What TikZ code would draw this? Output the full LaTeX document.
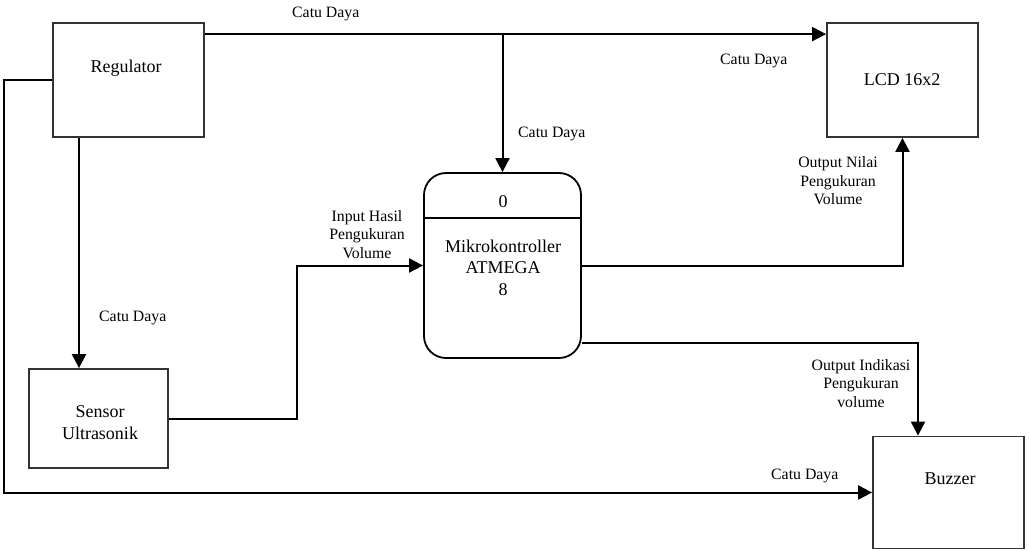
\documentclass[tikz,border=0pt]{standalone}
\usepackage{fontspec}
\setmainfont{Liberation Serif}
\usetikzlibrary{arrows.meta,calc}
\begin{document}
\begin{tikzpicture}[x=1pt,y=-1pt,
  box/.style={draw=black!80,line width=1.8pt,rectangle,inner sep=0pt},
  proc/.style={draw=black,line width=1.8pt,rounded corners=22pt,inner sep=0pt,minimum width=157pt,minimum height=185pt},
  boxtext/.style={font=\fontsize{18}{21.5}\selectfont,align=center,inner sep=0pt},
  lbl/.style={font=\fontsize{15.8}{18.5}\selectfont,align=center,inner sep=0pt},
  conn/.style={line width=2pt,draw=black},
  arr/.style={conn,-{Triangle[length=14pt,width=14pt]}}]
\useasboundingbox (0,0) rectangle (1029,550);
% boxes
\node[box,minimum width=151pt,minimum height=114pt] (reg) at (128.5,80) {};
\node[box,minimum width=151pt,minimum height=114pt] (lcd) at (902.5,80) {};
\node[box,minimum width=139pt,minimum height=99pt] (sen) at (98.5,418.5) {};
\node[box,minimum width=151pt,minimum height=112pt] (buz) at (948.5,492.5) {};
\node[proc] (mic) at (502.5,265.5) {};
\draw[conn] (mic.west |- 0,218) -- (mic.east |- 0,218);
% box texts
\node[boxtext] (regt) at (126,68) {Regulator};
\node[boxtext] (lcdt) at (902,80) {LCD 16x2};
\node[boxtext] (sent) at (100,422.5) {Sensor\\Ultrasonik};
\node[boxtext] (buzt) at (950,479) {Buzzer};
\node[boxtext] (mic0) at (503,202) {0};
\node[boxtext] (mict) at (503,267.5) {Mikrokontroller\\ATMEGA\\8};
% connectors
\coordinate (j) at (mic.north |- 0,35);
\draw[arr] ([yshift=-12pt]reg.north east) -- ([yshift=-12pt]lcd.north west);
\draw[arr] (j) -- (mic.north);
\coordinate (rs) at ([xshift=-49.5pt]reg.south);
\draw[arr] (rs) -- (rs |- sen.north);
\draw[arr] (reg.west) -- ++(-48,0) |- (buz.west);
\draw[arr] (sen.east) -- ++(128,0) |- (mic.west);
\draw[arr] (mic.east) -| (lcd.south);
\draw[arr] ([yshift=-77.5pt]mic.east) -| ([xshift=-30.5pt]buz.north);
% labels
\node[lbl,anchor=west] (l1) at (292,14) {Catu Daya};
\node[lbl,anchor=west] (l2) at (720,61) {Catu Daya};
\node[lbl,anchor=west] (l3) at (518,134) {Catu Daya};
\node[lbl,anchor=west] (l4) at (99,318) {Catu Daya};
\node[lbl,anchor=west] (l5) at (771,476) {Catu Daya};
\node[lbl] (l6) at (367,234.5) {Input Hasil\\Pengukuran\\Volume};
\node[lbl] (l7) at (838,181) {Output Nilai\\Pengukuran\\Volume};
\node[lbl] (l8) at (861,383.5) {Output Indikasi\\Pengukuran\\volume};
\end{tikzpicture}
\end{document}
